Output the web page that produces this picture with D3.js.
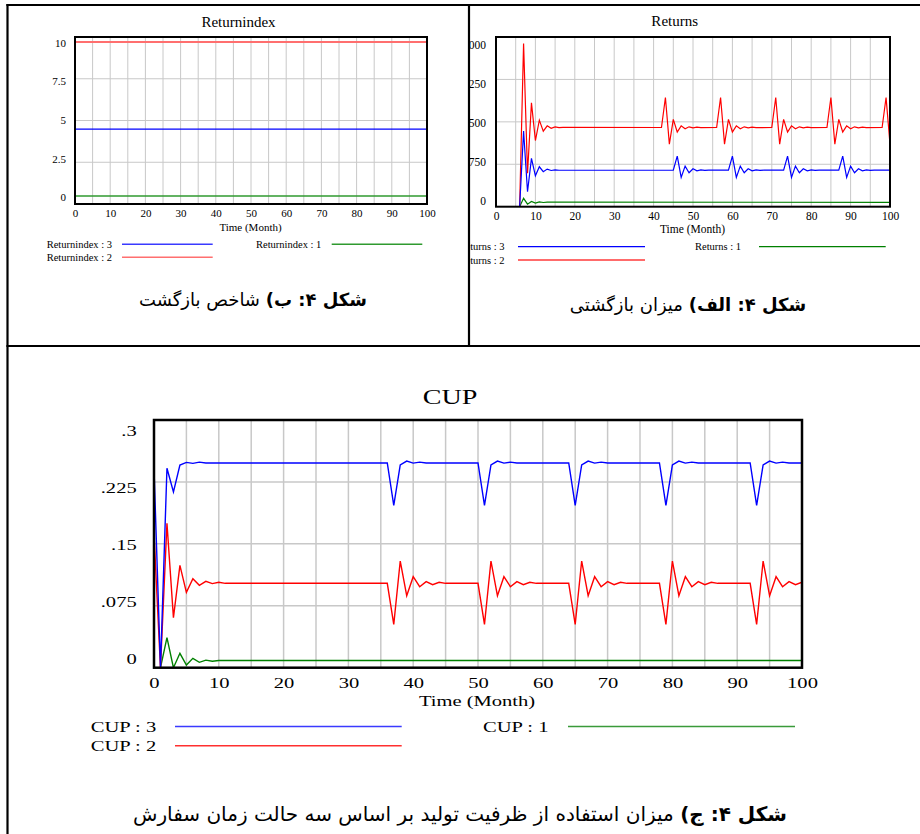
<!DOCTYPE html>
<html>
<head>
<meta charset="utf-8">
<script src="https://cdn.jsdelivr.net/npm/d3@7"></script>
<style>
  body { margin: 0; background: #fff; }
  svg { display: block; }
</style>
</head>
<body>
<svg id="page" width="920" height="834"></svg>
<script>
// ---------- DATA ----------
var timeDomain = [0, 100];
var xTickValues = [0, 10, 20, 30, 40, 50, 60, 70, 80, 90, 100];
var gridMonths = [5, 10, 15, 20, 25, 30, 35, 40, 45, 50, 55, 60, 65, 70, 75, 80, 85, 90, 95];

// Returnindex (constant over the run)
var returnindex1 = [[0, 0.48], [100, 0.48]];
var returnindex2 = [[0, 9.7], [100, 9.7]];
var returnindex3 = [[0, 4.48], [100, 4.48]];
var returnindexTicks = [0, 2.5, 5, 7.5, 10];
var returnindexTickLabels = ['0', '2.5', '5', '7.5', '10'];
var returnindexNames = ['Returnindex : 3', 'Returnindex : 1', 'Returnindex : 2'];

// Returns  [month, value]
var returns1 = [[0, 0], [6, 0], [7, 148], [8, 45], [9, 92], [10, 64], [11, 86], [12, 74], [13, 80], [100, 78]];
var returns2 = [[0, 0], [6, 0], [7, 2885], [8, 590], [9, 1835], [10, 1170], [11, 1530], [12, 1335], [13, 1430],
  [14, 1385], [15, 1410], [16, 1398], [17, 1403], [42, 1400],
  [43, 1930], [44, 1106], [45, 1545], [46, 1320], [47, 1430], [48, 1378], [49, 1412], [50, 1394], [51, 1405], [52, 1398], [56, 1400],
  [57, 1930], [58, 1106], [59, 1545], [60, 1320], [61, 1430], [62, 1378], [63, 1412], [64, 1394], [65, 1405], [66, 1398], [70, 1400],
  [71, 1930], [72, 1106], [73, 1545], [74, 1320], [75, 1430], [76, 1378], [77, 1412], [78, 1394], [79, 1405], [80, 1398], [84, 1400],
  [85, 1930], [86, 1106], [87, 1545], [88, 1320], [89, 1430], [90, 1378], [91, 1412], [92, 1394], [93, 1405], [94, 1398], [98, 1400],
  [99, 1930], [100, 1106]];
var returns3 = [[0, 0], [6, 0], [7, 1336], [8, 265], [9, 854], [10, 547], [11, 706], [12, 618], [13, 665], [14, 640],
  [15, 650], [16, 644], [45, 645],
  [46, 894], [47, 518], [48, 718], [49, 600], [50, 671], [51, 635], [52, 652], [53, 642], [54, 647], [59, 645],
  [60, 894], [61, 518], [62, 718], [63, 600], [64, 671], [65, 635], [66, 652], [67, 642], [68, 647], [73, 645],
  [74, 894], [75, 518], [76, 718], [77, 600], [78, 671], [79, 635], [80, 652], [81, 642], [82, 647], [87, 645],
  [88, 894], [89, 518], [90, 718], [91, 600], [92, 671], [93, 635], [94, 652], [95, 642], [96, 647], [100, 645]];
var returnsTicks = [0, 750, 1500, 2250, 3000];
var returnsTickLabels = ['0', '750', '1,500', '2,250', '3,000'];
var returnsNames = ['Returns : 3', 'Returns : 1', 'Returns : 2'];

// CUP  [month, value]
var cup1 = [[0, 0], [1, 0], [2, 0.0364], [3, 0], [4, 0.0174], [5, 0.0032], [6, 0.0113], [7, 0.0065], [8, 0.0092],
  [9, 0.0079], [10, 0.0087], [100, 0.0087]];
var cup2 = [[0, 0.162], [1, 0], [2, 0.175], [3, 0.0606], [4, 0.124], [5, 0.0913], [6, 0.1078], [7, 0.0998], [8, 0.1046],
  [9, 0.1018], [10, 0.1035], [11, 0.1022], [36, 0.1022],
  [37, 0.0525], [38, 0.1292], [39, 0.0872], [40, 0.1102], [41, 0.0981], [42, 0.1042], [43, 0.1006], [44, 0.1035], [45, 0.1022], [50, 0.1022],
  [51, 0.0525], [52, 0.1292], [53, 0.0872], [54, 0.1102], [55, 0.0981], [56, 0.1042], [57, 0.1006], [58, 0.1035], [59, 0.1022], [64, 0.1022],
  [65, 0.0525], [66, 0.1292], [67, 0.0872], [68, 0.1102], [69, 0.0981], [70, 0.1042], [71, 0.1006], [72, 0.1035], [73, 0.1022], [78, 0.1022],
  [79, 0.0525], [80, 0.1292], [81, 0.0872], [82, 0.1102], [83, 0.0981], [84, 0.1042], [85, 0.1006], [86, 0.1035], [87, 0.1022], [92, 0.1022],
  [93, 0.0525], [94, 0.1292], [95, 0.0872], [96, 0.1102], [97, 0.0981], [98, 0.1042], [99, 0.1006], [100, 0.1035]];
var cup3 = [[0, 0.2415], [1, 0], [2, 0.2415], [3, 0.213], [4, 0.2455], [5, 0.2487], [6, 0.2475], [7, 0.249], [8, 0.2479], [36, 0.2479],
  [37, 0.1967], [38, 0.2455], [39, 0.2503], [40, 0.2478], [41, 0.249], [42, 0.2479], [50, 0.2479],
  [51, 0.1967], [52, 0.2455], [53, 0.2503], [54, 0.2478], [55, 0.249], [56, 0.2479], [64, 0.2479],
  [65, 0.1967], [66, 0.2455], [67, 0.2503], [68, 0.2478], [69, 0.249], [70, 0.2479], [78, 0.2479],
  [79, 0.1967], [80, 0.2455], [81, 0.2503], [82, 0.2478], [83, 0.249], [84, 0.2479], [92, 0.2479],
  [93, 0.1967], [94, 0.2455], [95, 0.2503], [96, 0.2478], [97, 0.249], [98, 0.2479], [100, 0.2479]];
var cupTicks = [0, 0.075, 0.15, 0.225, 0.3];
var cupTickLabels = ['0', '.075', '.15', '.225', '.3'];
var cupNames = ['CUP : 3', 'CUP : 1', 'CUP : 2'];

// captions: bold part, plain part
var captionReturnindex = ['شکل ۴: ب)', ' شاخص بازگشت'];
var captionReturns = ['شکل ۴: الف)', ' میزان بازگشتی'];
var captionCup = ['شکل ۴: ج)', ' میزان استفاده از ظرفیت تولید بر اساس سه حالت زمان سفارش'];

// ---------- DRAWING ----------
var SERIF = "'Liberation Serif', 'Times New Roman', serif";
var PERSIAN = "'DejaVu Sans', sans-serif";
var BLUE = '#0000ff', RED = '#ff0000', GREEN = '#008000';

var svg = d3.select('#page');
var defs = svg.append('defs');
svg.append('rect').attr('width', 920).attr('height', 834).attr('fill', '#fff');

// clip for the top-right cell (its chart is cut on the left)
defs.append('clipPath').attr('id', 'cell-right')
  .append('rect').attr('x', 470).attr('y', 0).attr('width', 450).attr('height', 345);

function putText(g, x, y, str, size, anchor, sx) {
  return g.append('text')
    .attr('transform', 'translate(' + x + ',' + y + ') scale(' + sx + ',1)')
    .attr('text-anchor', anchor)
    .attr('dy', '0.35em')
    .attr('font-family', SERIF)
    .attr('font-size', size)
    .attr('fill', '#000')
    .text(str);
}

function drawPanel(p) {
  var g = svg.append('g');
  if (p.clip) g.attr('clip-path', 'url(#' + p.clip + ')');
  var sx = p.stretch;

  var x = d3.scaleLinear().domain(timeDomain).range([p.left, p.right]);
  var y = d3.scaleLinear().domain([0, p.yMax]).range([p.bottom, p.top]);
  // vensim pulls the end labels inside the frame
  var yLab = d3.scaleLinear().domain([0, p.yMax]).range([p.labBottom, p.labTop]);

  // grid
  g.append('g').selectAll('line').data(gridMonths).join('line')
    .attr('x1', function (d) { return x(d); }).attr('x2', function (d) { return x(d); })
    .attr('y1', p.top).attr('y2', p.bottom)
    .attr('stroke', '#c8c8c8').attr('stroke-width', p.gridWidth);
  g.append('g').selectAll('line').data(p.ticks.slice(1, -1)).join('line')
    .attr('x1', p.left).attr('x2', p.right)
    .attr('y1', function (d) { return y(d); }).attr('y2', function (d) { return y(d); })
    .attr('stroke', '#c8c8c8').attr('stroke-width', p.gridWidth);

  // series
  defs.append('clipPath').attr('id', p.id + '-frame')
    .append('rect').attr('x', p.left).attr('y', p.top - 1)
    .attr('width', p.right - p.left).attr('height', p.bottom - p.top + 1);
  var line = d3.line().x(function (d) { return x(d[0]); }).y(function (d) { return y(d[1]); });
  var sg = g.append('g').attr('clip-path', 'url(#' + p.id + '-frame)');
  p.series.forEach(function (s) {
    sg.append('path').datum(s.data)
      .attr('d', line)
      .attr('fill', 'none')
      .attr('stroke', s.color)
      .attr('stroke-width', s.width)
      .attr('stroke-linejoin', 'miter');
  });

  // frame
  g.append('rect')
    .attr('x', p.left).attr('y', p.top)
    .attr('width', p.right - p.left).attr('height', p.bottom - p.top)
    .attr('fill', 'none').attr('stroke', '#000').attr('stroke-width', p.frameWidth);

  // x tick labels
  var xa = g.append('g').attr('transform', 'translate(0,' + p.xLabY + ')')
    .call(d3.axisBottom(x).tickValues(xTickValues).tickSize(0).tickFormat(d3.format('d')))
    .attr('font-family', SERIF).attr('font-size', p.tickFont);
  xa.select('.domain').remove();
  xa.selectAll('text').attr('y', 0).attr('dy', '0.35em').attr('fill', '#000')
    .attr('transform', 'scale(' + sx + ',1)');

  // y tick labels
  var ya = g.append('g').attr('transform', 'translate(' + p.yLabX + ',0)')
    .call(d3.axisLeft(yLab).tickValues(p.ticks).tickSize(0)
      .tickFormat(function (d, i) { return p.tickLabels[i]; }))
    .attr('font-family', SERIF).attr('font-size', p.tickFont);
  ya.select('.domain').remove();
  ya.selectAll('text').attr('x', 0).attr('dy', '0.35em').attr('fill', '#000')
    .attr('transform', 'scale(' + sx + ',1)');

  // titles
  putText(g, p.titleX, p.titleY, p.title, p.titleFont, 'middle', sx);
  putText(g, p.axisX, p.axisY, 'Time (Month)', p.tickFont, 'middle', sx);

  // legend
  p.legend.forEach(function (l) {
    putText(g, l.tx, l.y, l.name, p.legendFont, 'start', sx);
    g.append('line')
      .attr('x1', l.x1).attr('x2', l.x2).attr('y1', l.y).attr('y2', l.y)
      .attr('stroke', l.color).attr('stroke-width', p.legendWidth);
  });
}

// ---- table ----
var table = svg.append('g').attr('stroke', '#000').attr('stroke-width', 2.2);
table.append('line').attr('x1', 7.5).attr('x2', 7.5).attr('y1', 4).attr('y2', 834);
table.append('line').attr('x1', 6.4).attr('x2', 920).attr('y1', 5).attr('y2', 5);
table.append('line').attr('x1', 469).attr('x2', 469).attr('y1', 5).attr('y2', 346);
table.append('line').attr('x1', 6.4).attr('x2', 920).attr('y1', 346).attr('y2', 346);

// ---- Returnindex (top left) ----
drawPanel({
  id: 'ri', stretch: 1,
  left: 75, right: 427, top: 37, bottom: 204, yMax: 10,
  labBottom: 197, labTop: 42.5, yLabX: 66, xLabY: 213,
  ticks: returnindexTicks, tickLabels: returnindexTickLabels,
  tickFont: 11, titleFont: 15, legendFont: 10.5,
  gridWidth: 1, frameWidth: 2, legendWidth: 1.6,
  title: 'Returnindex', titleX: 238.5, titleY: 22, axisX: 250.5, axisY: 226.7,
  series: [
    { data: returnindex1, color: '#2f9a2f', width: 1.6 },
    { data: returnindex2, color: '#ff6f6f', width: 2 },
    { data: returnindex3, color: BLUE, width: 1.2 }
  ],
  legend: [
    { name: returnindexNames[0], color: '#3a3aff', tx: 46.7, y: 244.3, x1: 122, x2: 212.7 },
    { name: returnindexNames[1], color: '#2f9a2f', tx: 256, y: 244.3, x1: 331.7, x2: 422.3 },
    { name: returnindexNames[2], color: '#ff6f6f', tx: 46.7, y: 257.3, x1: 122, x2: 212.7 }
  ]
});

// ---- Returns (top right) ----
drawPanel({
  id: 'rt', stretch: 1, clip: 'cell-right',
  left: 496, right: 890, top: 37, bottom: 206.7, yMax: 3000,
  labBottom: 200, labTop: 44.3, yLabX: 486, xLabY: 216,
  ticks: returnsTicks, tickLabels: returnsTickLabels,
  tickFont: 11.5, titleFont: 15, legendFont: 10.5,
  gridWidth: 1, frameWidth: 2, legendWidth: 1.3,
  title: 'Returns', titleX: 674.7, titleY: 21, axisX: 692.5, axisY: 229.3,
  series: [
    { data: returns1, color: GREEN, width: 1.2 },
    { data: returns2, color: RED, width: 1.2 },
    { data: returns3, color: BLUE, width: 1.2 }
  ],
  legend: [
    { name: returnsNames[0], color: BLUE, tx: 458.5, y: 246.7, x1: 518, x2: 645 },
    { name: returnsNames[1], color: GREEN, tx: 695, y: 246.7, x1: 759, x2: 885.7 },
    { name: returnsNames[2], color: '#ff3a3a', tx: 458.5, y: 260, x1: 518, x2: 645 }
  ]
});

// ---- CUP (bottom) ----
drawPanel({
  id: 'cup', stretch: 1.37,
  left: 154, right: 802, top: 420, bottom: 667.7, yMax: 0.3,
  labBottom: 658.3, labTop: 430, yLabX: 136.7, xLabY: 682.7,
  ticks: cupTicks, tickLabels: cupTickLabels,
  tickFont: 15, titleFont: 20.5, legendFont: 15,
  gridWidth: 1.5, frameWidth: 2.5, legendWidth: 1.6,
  title: 'CUP', titleX: 450, titleY: 396.7, axisX: 477, axisY: 701,
  series: [
    { data: cup1, color: GREEN, width: 1.4 },
    { data: cup2, color: RED, width: 1.4 },
    { data: cup3, color: BLUE, width: 1.4 }
  ],
  legend: [
    { name: cupNames[0], color: '#3a3aff', tx: 90.7, y: 726.5, x1: 175, x2: 401.7 },
    { name: cupNames[1], color: '#3a9a3a', tx: 483, y: 726.5, x1: 568, x2: 795 },
    { name: cupNames[2], color: '#ff3030', tx: 90.7, y: 745.7, x1: 175, x2: 401.7 }
  ]
});

// ---- Persian captions ----
function caption(cx, cy, parts, size) {
  var t = svg.append('text')
    .attr('x', cx).attr('y', cy)
    .attr('dy', '0.35em')
    .attr('text-anchor', 'middle')
    .attr('direction', 'rtl')
    .style('direction', 'rtl')
    .attr('font-family', PERSIAN)
    .attr('font-size', size)
    .attr('fill', '#000');
  t.append('tspan').attr('font-weight', 'bold').text(parts[0]);
  t.append('tspan').text(parts[1]);
}
caption(253, 300, captionReturnindex, 18);
caption(688, 305, captionReturns, 18);
caption(460, 814, captionCup, 20);
</script>
</body>
</html>
